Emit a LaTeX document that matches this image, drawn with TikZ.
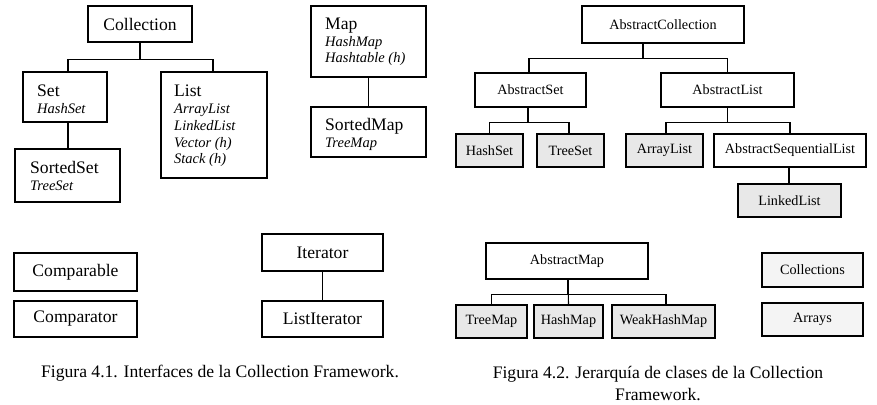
\documentclass[tikz,border=0pt]{standalone}
\usepackage{fontspec}
\setmainfont{Liberation Serif}
\definecolor{boxgray}{HTML}{E8E8E8}
\definecolor{boxlight}{HTML}{F4F4F4}
\tikzset{
  box/.style={draw=black, line width=1.1pt, rectangle, inner sep=0pt, anchor=center},
  big/.style={font=\fontsize{17.6}{20}\selectfont},
  small/.style={font=\fontsize{14.2}{17}\selectfont},
  ital/.style={font=\fontsize{14.5}{17}\selectfont\itshape},
  txt/.style={inner sep=0pt, anchor=base west},
  cls/.style={box, small, fill=boxgray},
  acls/.style={box, small, fill=white},
  util/.style={box, small, fill=boxlight},
  conn/.style={line width=1.1pt, draw=black},
  figcap/.style={font=\fontsize{17.6}{21}\selectfont, inner sep=0pt, align=center}
}
\begin{document}
\begin{tikzpicture}[x=1pt,y=-1pt]
\useasboundingbox[fill=white] (0,0) rectangle (877,404);

% ---------- Figure 4.1 ----------
\node[box, big, minimum width=104, minimum height=36] (coll) at (140,24) {Collection};
\node[box, minimum width=84, minimum height=50] (set) at (65,97) {};
\node[txt, big] (settxt) at (37,96) {Set};
\node[txt, ital] (setimpl) at (37,113) {HashSet};
\node[box, minimum width=105, minimum height=53] (sset) at (67.5,175.5) {};
\node[txt, big] (ssettxt) at (30,173) {SortedSet};
\node[txt, ital] (ssetimpl) at (30,190) {TreeSet};
\node[box, minimum width=106, minimum height=106] (list) at (214,125) {};
\node[txt, big] (listtxt) at (174,96) {List};
\node[txt, ital] (l1) at (174,113) {ArrayList};
\node[txt, ital] (l2) at (174,130) {LinkedList};
\node[txt, ital] (l3) at (174,147) {Vector (h)};
\node[txt, ital] (l4) at (174,163) {Stack (h)};
\node[box, minimum width=115, minimum height=71] (map) at (368.5,41.5) {};
\node[txt, big] (maptxt) at (325,30) {Map};
\node[txt, ital] (m1) at (325,47) {HashMap};
\node[txt, ital] (m2) at (325,63) {Hashtable (h)};
\node[box, minimum width=115, minimum height=50] (smap) at (368.5,132) {};
\node[txt, big] (smaptxt) at (325,130) {SortedMap};
\node[txt, ital] (smapimpl) at (325,147) {TreeMap};
\node[box, big, minimum width=123, minimum height=38] (cmpble) at (75.5,272) {Comparable};
\node[box, big, minimum width=123, minimum height=36] (cmptor) at (75.5,319) {Comparator};
\node[box, big, minimum width=121, minimum height=37] (iter) at (322.5,252.5) {Iterator};
\node[box, big, minimum width=121, minimum height=36] (liter) at (322.5,319) {ListIterator};

\draw[conn] (coll.south) -- ++(0,17) -| ([xshift=3]set.north);
\draw[conn] (coll.south) ++(0,17) -| ([xshift=-1]list.north);
\draw[conn] ([xshift=3]set.south) -- ([xshift=3]set.south |- sset.north);
\draw[conn] (map) -- (smap);
\draw[conn] (iter) -- (liter);

\node[figcap] (cap1) at (220,373) {Figura 4.1. Interfaces de la Collection Framework.};

% ---------- Figure 4.2 ----------
\node[acls, minimum width=162, minimum height=37] (acoll) at (663,24.5) {AbstractCollection};
\node[acls, minimum width=111, minimum height=34] (aset) at (530.5,90) {AbstractSet};
\node[acls, minimum width=133, minimum height=34] (alist) at (727.5,90) {AbstractList};
\node[cls, minimum width=67, minimum height=33] (hset) at (489.5,150.5) {HashSet};
\node[cls, minimum width=67, minimum height=33] (tset) at (570.5,150.5) {TreeSet};
\node[cls, minimum width=77, minimum height=33] (alst) at (664.5,150.5) {ArrayList};
\node[acls, minimum width=152, minimum height=33] (aseq) at (790,150.5) {AbstractSequentialList};
\node[cls, minimum width=103, minimum height=33] (llist) at (789.5,200.5) {LinkedList};
\node[acls, minimum width=162, minimum height=36] (amap) at (567,261) {AbstractMap};
\node[cls, minimum width=71, minimum height=33] (tmap) at (491.5,321.5) {TreeMap};
\node[cls, minimum width=69, minimum height=33] (hmap) at (568.5,321.5) {HashMap};
\node[cls, minimum width=103, minimum height=33] (whmap) at (663.5,321.5) {WeakHashMap};
\node[util, minimum width=101, minimum height=34] (colls) at (812.5,270) {Collections};
\node[util, minimum width=101, minimum height=33] (arrs) at (812.5,319.5) {Arrays};

\draw[conn] ([xshift=-20]acoll.south) -- ++(0,15) -| ([xshift=-1.5]aset.north);
\draw[conn] ([xshift=-20]acoll.south) ++(0,15) -| (alist.north);
\draw[conn] ([xshift=-2.5]aset.south) -- ++(0,15) -| (hset.north);
\draw[conn] ([xshift=-2.5]aset.south) ++(0,15) -| ([xshift=-1.5]tset.north);
\draw[conn] (alist.south) -- ++(0,15) -| ([xshift=1.5]alst.north);
\draw[conn] (alist.south) ++(0,15) -| (aseq.north);
\draw[conn] ([xshift=-1]aseq.south) -- ([xshift=-1]aseq.south |- llist.north);
\draw[conn] ([xshift=1]amap.south) -- ++(0,15) -| (tmap.north);
\draw[conn] ([xshift=1]amap.south) -- (hmap.north);
\draw[conn] ([xshift=1]amap.south) ++(0,15) -| ([xshift=2.5]whmap.north);

\node[figcap] (cap2) at (658,383.5) {Figura 4.2. Jerarquía de clases de la Collection\\Framework.};
\end{tikzpicture}
\end{document}
